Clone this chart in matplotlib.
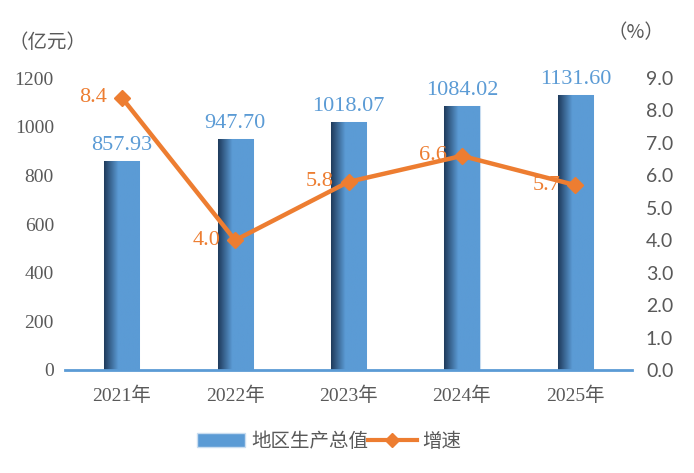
import numpy as np
import matplotlib.pyplot as plt
from matplotlib.colors import LinearSegmentedColormap
from matplotlib.lines import Line2D
from matplotlib.patches import Patch

# datos
anios = ['2021年', '2022年', '2023年', '2024年', '2025年']
pib = [857.93, 947.70, 1018.07, 1084.02, 1131.60]
crecimiento = [8.4, 4.0, 5.8, 6.6, 5.7]
pib_etiquetas = ['857.93', '947.70', '1018.07', '1084.02', '1131.60']

azul = '#5b9bd5'
naranja = '#ed7d31'
gris = '#595959'
serif = ['Liberation Serif', 'Noto Sans CJK SC']

plt.rcParams['font.family'] = serif

fig = plt.figure(figsize=(6.94, 4.73), dpi=100)
ax = fig.add_axes([0.0937, 0.2178, 0.817, 0.6172])
ax2 = ax.twinx()

x = np.arange(len(anios))
barras = ax.bar(x, pib, width=0.31, color=azul, edgecolor='#c9ddf0', linewidth=0.8, zorder=2)

# degradado oscuro a la izquierda de cada barra
cmap = LinearSegmentedColormap.from_list('barra', [(0, '#1f3b5c'), (0.4, azul), (1, azul)])
grad = np.linspace(0, 1, 100).reshape(1, -1)
for b in barras:
    x0, y0 = b.get_x(), b.get_y()
    w, h = b.get_width(), b.get_height()
    im = ax.imshow(grad, cmap=cmap, aspect='auto', extent=[x0, x0 + w, y0, y0 + h], zorder=2.5)
    im.set_clip_path(b)

for xi, v, t in zip(x, pib, pib_etiquetas):
    ax.text(xi, v + 25, t, ha='center', va='bottom', fontsize=16, color=azul)

ax.set_xlim(-0.5, 4.5)
ax.set_ylim(0, 1200)
ax.set_yticks(range(0, 1201, 200))
ax.set_xticks(x)
ax.set_xticklabels(anios, fontsize=14, color=gris)
ax.tick_params(axis='y', labelsize=14, colors=gris, length=0, pad=8)
ax.tick_params(axis='x', length=0, pad=12)
for s in ['top', 'right', 'left']:
    ax.spines[s].set_visible(False)
ax.spines['bottom'].set_color(azul)
ax.spines['bottom'].set_linewidth(2)

ax2.plot(x, crecimiento, color=naranja, linewidth=3.2, marker='D', markersize=8, zorder=3)
for xi, v in zip(x, crecimiento):
    ax2.text(xi - 0.13, v, f'{v:.1f}', ha='right', va='center', fontsize=16, color=naranja)
ax2.set_ylim(0, 9)
ax2.set_yticks(np.arange(0, 9.1, 1))
ax2.set_yticklabels([f'{v:.1f}' for v in np.arange(0, 9.1, 1)], family='Lato')
ax2.tick_params(axis='y', labelsize=14, colors=gris, length=0, pad=10)
for s in ['top', 'right', 'left', 'bottom']:
    ax2.spines[s].set_visible(False)

fig.text(0.012, 0.91, '（亿元）', fontsize=14, color=gris, family='Noto Sans CJK SC', va='center')
fig.text(0.876, 0.932, '（%）', fontsize=14, color=gris, family='Noto Sans CJK SC', va='center')

handles = [
    Patch(facecolor=azul, edgecolor='#c9ddf0'),
    Line2D([0], [0], color=naranja, linewidth=3, marker='D', markersize=7),
]
fig.legend(handles, ['地区生产总值', '增速'], loc='center', bbox_to_anchor=(0.474, 0.067),
           ncol=2, frameon=False, labelcolor=gris, columnspacing=0.0,
           handlelength=2.5, handletextpad=0.3, prop={'family': 'Noto Sans CJK SC', 'size': 14})

fig.savefig('out.png', dpi=100)
